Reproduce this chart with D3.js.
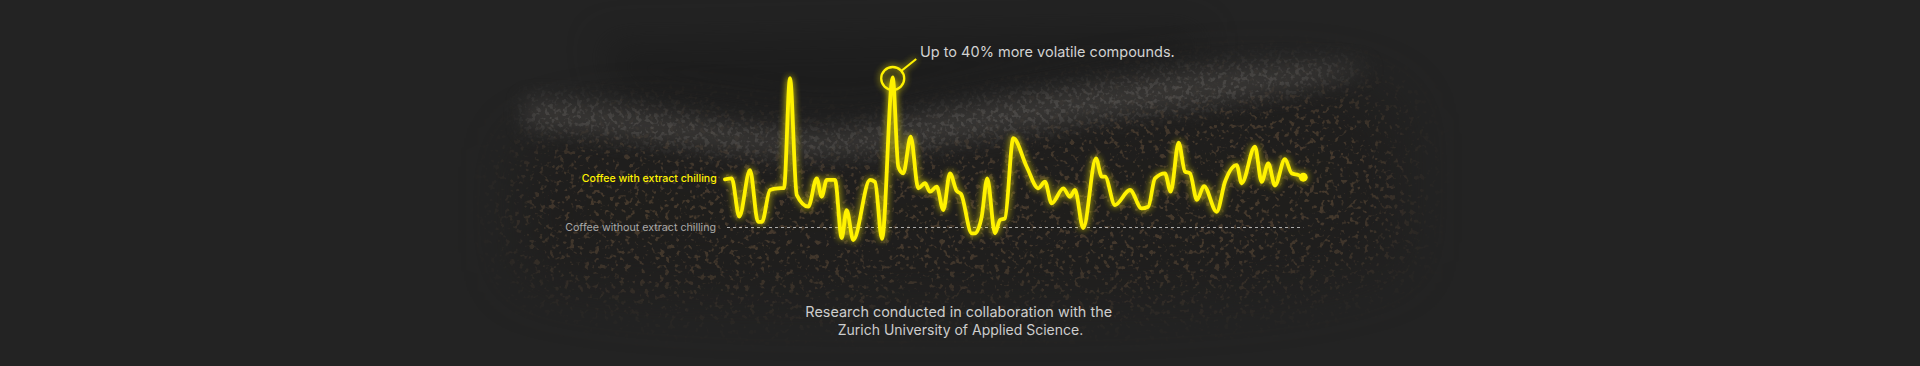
<!DOCTYPE html>
<html>
<head>
<meta charset="utf-8">
<script src="https://cdn.jsdelivr.net/npm/d3@7"></script>
<style>
  html, body { margin: 0; padding: 0; background: #232323; }
  svg { display: block; }
</style>
</head>
<body>
<svg id="chart" width="1920" height="366"></svg>
<script>
// ---- Data ----
// Retention position (0–100 across the trace)
const positions = [0, 1.16, 2.47, 4.32, 5.71, 6.40, 7.78, 9.17, 10.2, 11.24, 12.40, 14.40, 15.86, 16.72, 17.59, 19.02,
  20.18, 21.04, 22.18, 25.07, 25.94, 27.15, 29.0, 29.97, 30.83, 32.11, 33.42, 34.58, 35.45, 36.61, 37.75, 38.9,
  40.06, 40.81, 42.66, 43.23, 44.39, 45.35, 46.69, 47.55, 48.41, 49.85, 52.17, 54.17, 55.33, 56.49, 58.50, 59.65,
  60.52, 61.95, 64.15, 65.14, 65.71, 67.44, 70.03, 72.05, 73.19, 74.35, 76.08, 77.07, 78.45, 79.54, 80.40, 81.61,
  82.82, 85.02, 86.46, 88.48, 89.34, 91.64, 92.80, 93.94, 95.10, 96.83, 97.99, 99.13, 100];
// Extra volatile compounds vs. coffee without extract chilling (%)
const withChilling = [12.85, 13.1, 2.9, 15.3, 1.5, 1.5, 10.0, 10.45, 10.5, 39.8, 8.7, 5.55, 13.1, 8.2, 12.7, 12.7,
  -2.8, 4.65, -3.35, 12.7, 12.15, -3.05, 40, 16.2, 14.45, 24.2, 10.45, 11.8, 9.55, 10.9, 4.65, 14.45,
  9.75, 8.95, -1.55, -1.55, 2.9, 13.1, -1.55, 2.0, 2.45, 23.8, 16.2, 10.45, 12.2, 6.45, 10.45, 8.2,
  10.0, -0.15, 18.45, 13.55, 13.55, 6.0, 10.0, 5.1, 5.55, 13.1, 14.45, 9.55, 22.6, 14.9, 14.45, 7.35,
  11.05, 4.2, 12.2, 16.65, 11.8, 21.55, 12.15, 17.1, 11.2, 18.25, 14.45, 14.0, 13.4];
const withoutChilling = [0, 0]; // reference level, flat across the trace
const seriesLabels = ["Coffee with extract chilling", "Coffee without extract chilling"];
const annotationText = "Up to 40% more volatile compounds.";
const footerLines = ["Research conducted in collaboration with the", "Zurich University of Applied Science."];

// ---- Layout ----
const W = 1920, H = 366;
const FONT = "Inter, 'Noto Sans', sans-serif";
const YELLOW = "#fff200";
const svg = d3.select("#chart");
const defs = svg.append("defs");

svg.append("rect").attr("width", W).attr("height", H).attr("fill", "#232323");

// ---- Decorative coffee-grain backdrop ----
function blurFilter(id, sd) {
  const f = defs.append("filter").attr("id", id).attr("x", "-30%").attr("y", "-80%").attr("width", "160%").attr("height", "260%")
    .attr("color-interpolation-filters", "sRGB");
  f.append("feGaussianBlur").attr("stdDeviation", sd);
}
blurFilter("soft", 28);
blurFilter("bandBlur", 10);
blurFilter("topDark", 18);

function grain(id, freq, r, g, b, slope, offset, blur) {
  const f = defs.append("filter").attr("id", id).attr("x", "-30%").attr("y", "-80%").attr("width", "160%").attr("height", "260%")
    .attr("color-interpolation-filters", "sRGB");
  f.append("feGaussianBlur").attr("in", "SourceGraphic").attr("stdDeviation", blur).attr("result", "mask");
  f.append("feTurbulence").attr("type", "fractalNoise").attr("baseFrequency", freq).attr("numOctaves", 2).attr("seed", 7).attr("result", "noise");
  f.append("feColorMatrix").attr("in", "noise").attr("type", "matrix")
    .attr("values", `0 0 0 0 ${r} 0 0 0 0 ${g} 0 0 0 0 ${b} ${slope} 0 0 0 ${offset}`).attr("result", "spots");
  f.append("feComposite").attr("in", "spots").attr("in2", "mask").attr("operator", "in");
}
grain("grainBrown", 0.2, 0.42, 0.33, 0.24, 8, -4.6, 30);
grain("grainGrey", 0.22, 0.44, 0.43, 0.42, 7, -3.6, 12);

// darker area above the band
const topShape = "M 600 40 C 750 40, 1000 30, 1200 30 L 1200 60 C 1050 80, 950 100, 880 115 C 800 128, 720 110, 620 95 Z";
svg.append("path").attr("d", topShape).attr("fill", "#1a1a1a").attr("opacity", 0.6).attr("filter", "url(#topDark)");

const cloud = "M 520 150 C 600 110, 700 120, 800 140 C 900 150, 1000 110, 1150 90 C 1280 75, 1380 80, 1400 120 L 1400 260 C 1300 300, 1100 300, 950 300 C 800 300, 600 300, 520 270 Z";
svg.append("path").attr("d", cloud).attr("fill", "#1c1a18").attr("opacity", 0.55).attr("filter", "url(#soft)");
svg.append("path").attr("d", cloud).attr("fill", "#000").attr("filter", "url(#grainBrown)").attr("opacity", 0.5);

const band = "M 525 100 C 600 100, 680 118, 760 128 C 820 136, 870 130, 920 115 C 1000 98, 1100 85, 1200 70 C 1280 62, 1340 62, 1370 68 C 1330 85, 1250 100, 1150 112 C 1050 125, 980 140, 900 150 C 840 158, 780 158, 720 150 C 640 140, 580 130, 525 128 Z";
svg.append("path").attr("d", band).attr("fill", "#3b3937").attr("opacity", 0.85).attr("filter", "url(#bandBlur)");
svg.append("path").attr("d", band).attr("fill", "#000").attr("filter", "url(#grainGrey)").attr("opacity", 0.4);

// ---- Scales ----
const x = d3.scaleLinear().domain([0, 100]).range([725, 1303.3]);
const y = d3.scaleLinear().domain([0, 40]).range([227.5, 77.5]);

// Baseline (without extract chilling)
svg.append("line")
  .attr("x1", x(0) + 2).attr("x2", x(100))
  .attr("y1", y(withoutChilling[0])).attr("y2", y(withoutChilling[1]))
  .attr("stroke", "#c4c4c4").attr("stroke-width", 1.1).attr("stroke-dasharray", "3,3").attr("opacity", 0.85);

// Glow filter
const glow = defs.append("filter").attr("id", "glow").attr("x", "-10%").attr("y", "-30%").attr("width", "120%").attr("height", "160%")
  .attr("color-interpolation-filters", "sRGB");
glow.append("feGaussianBlur").attr("in", "SourceGraphic").attr("stdDeviation", 3.5).attr("result", "b1");
glow.append("feComponentTransfer").attr("in", "b1").attr("result", "b1a")
  .append("feFuncA").attr("type", "linear").attr("slope", 0.9);
const merge = glow.append("feMerge");
merge.append("feMergeNode").attr("in", "b1a");
merge.append("feMergeNode").attr("in", "SourceGraphic");

const pts = positions.map((p, i) => [p, withChilling[i]]);
const line = d3.line().x(d => x(d[0])).y(d => y(d[1])).curve(d3.curveMonotoneX);

const g = svg.append("g").attr("filter", "url(#glow)");
g.append("path").datum(pts).attr("d", line)
  .attr("fill", "none").attr("stroke", YELLOW).attr("stroke-width", 3.8)
  .attr("stroke-linejoin", "round").attr("stroke-linecap", "round");
const last = pts[pts.length - 1];
g.append("circle").attr("cx", x(last[0])).attr("cy", y(last[1])).attr("r", 4.4).attr("fill", YELLOW);

// Annotation on the top peak
const peak = pts.reduce((a, b) => (b[1] > a[1] ? b : a));
const pcx = x(peak[0]), pcy = y(peak[1]) + 1;
g.append("circle").attr("cx", pcx).attr("cy", pcy).attr("r", 11.5)
  .attr("fill", "none").attr("stroke", YELLOW).attr("stroke-width", 2.3);
g.append("line").attr("x1", pcx + 8.5).attr("y1", pcy - 7.5).attr("x2", pcx + 23.5).attr("y2", pcy - 19.5)
  .attr("stroke", YELLOW).attr("stroke-width", 2.1);

// ---- Text helpers (fit font size to the measured width) ----
function fitText(sel, target, base) {
  sel.attr("font-size", base);
  const w = sel.node().getComputedTextLength();
  sel.attr("font-size", base * target / w);
  return sel;
}

fitText(svg.append("text").text(annotationText)
  .attr("x", 920).attr("y", 56.7).attr("fill", "#d2d2d2").attr("font-family", FONT).attr("font-weight", 400), 255, 15);

fitText(svg.append("text").text(seriesLabels[0])
  .attr("x", 716.7).attr("y", 181.7).attr("text-anchor", "end").attr("fill", YELLOW)
  .attr("font-family", FONT).attr("font-weight", 500), 135, 11.5);

fitText(svg.append("text").text(seriesLabels[1])
  .attr("x", 716).attr("y", 230.7).attr("text-anchor", "end").attr("fill", "#a9a9a9")
  .attr("font-family", FONT).attr("font-weight", 400), 151, 11.5);

fitText(svg.append("text").text(footerLines[0])
  .attr("x", 958.7).attr("y", 317.3).attr("text-anchor", "middle").attr("fill", "#cdcdcd")
  .attr("font-family", FONT).attr("font-weight", 400), 307, 14);
fitText(svg.append("text").text(footerLines[1])
  .attr("x", 960.5).attr("y", 335).attr("text-anchor", "middle").attr("fill", "#cdcdcd")
  .attr("font-family", FONT).attr("font-weight", 400), 245.6, 14);
</script>
</body>
</html>
